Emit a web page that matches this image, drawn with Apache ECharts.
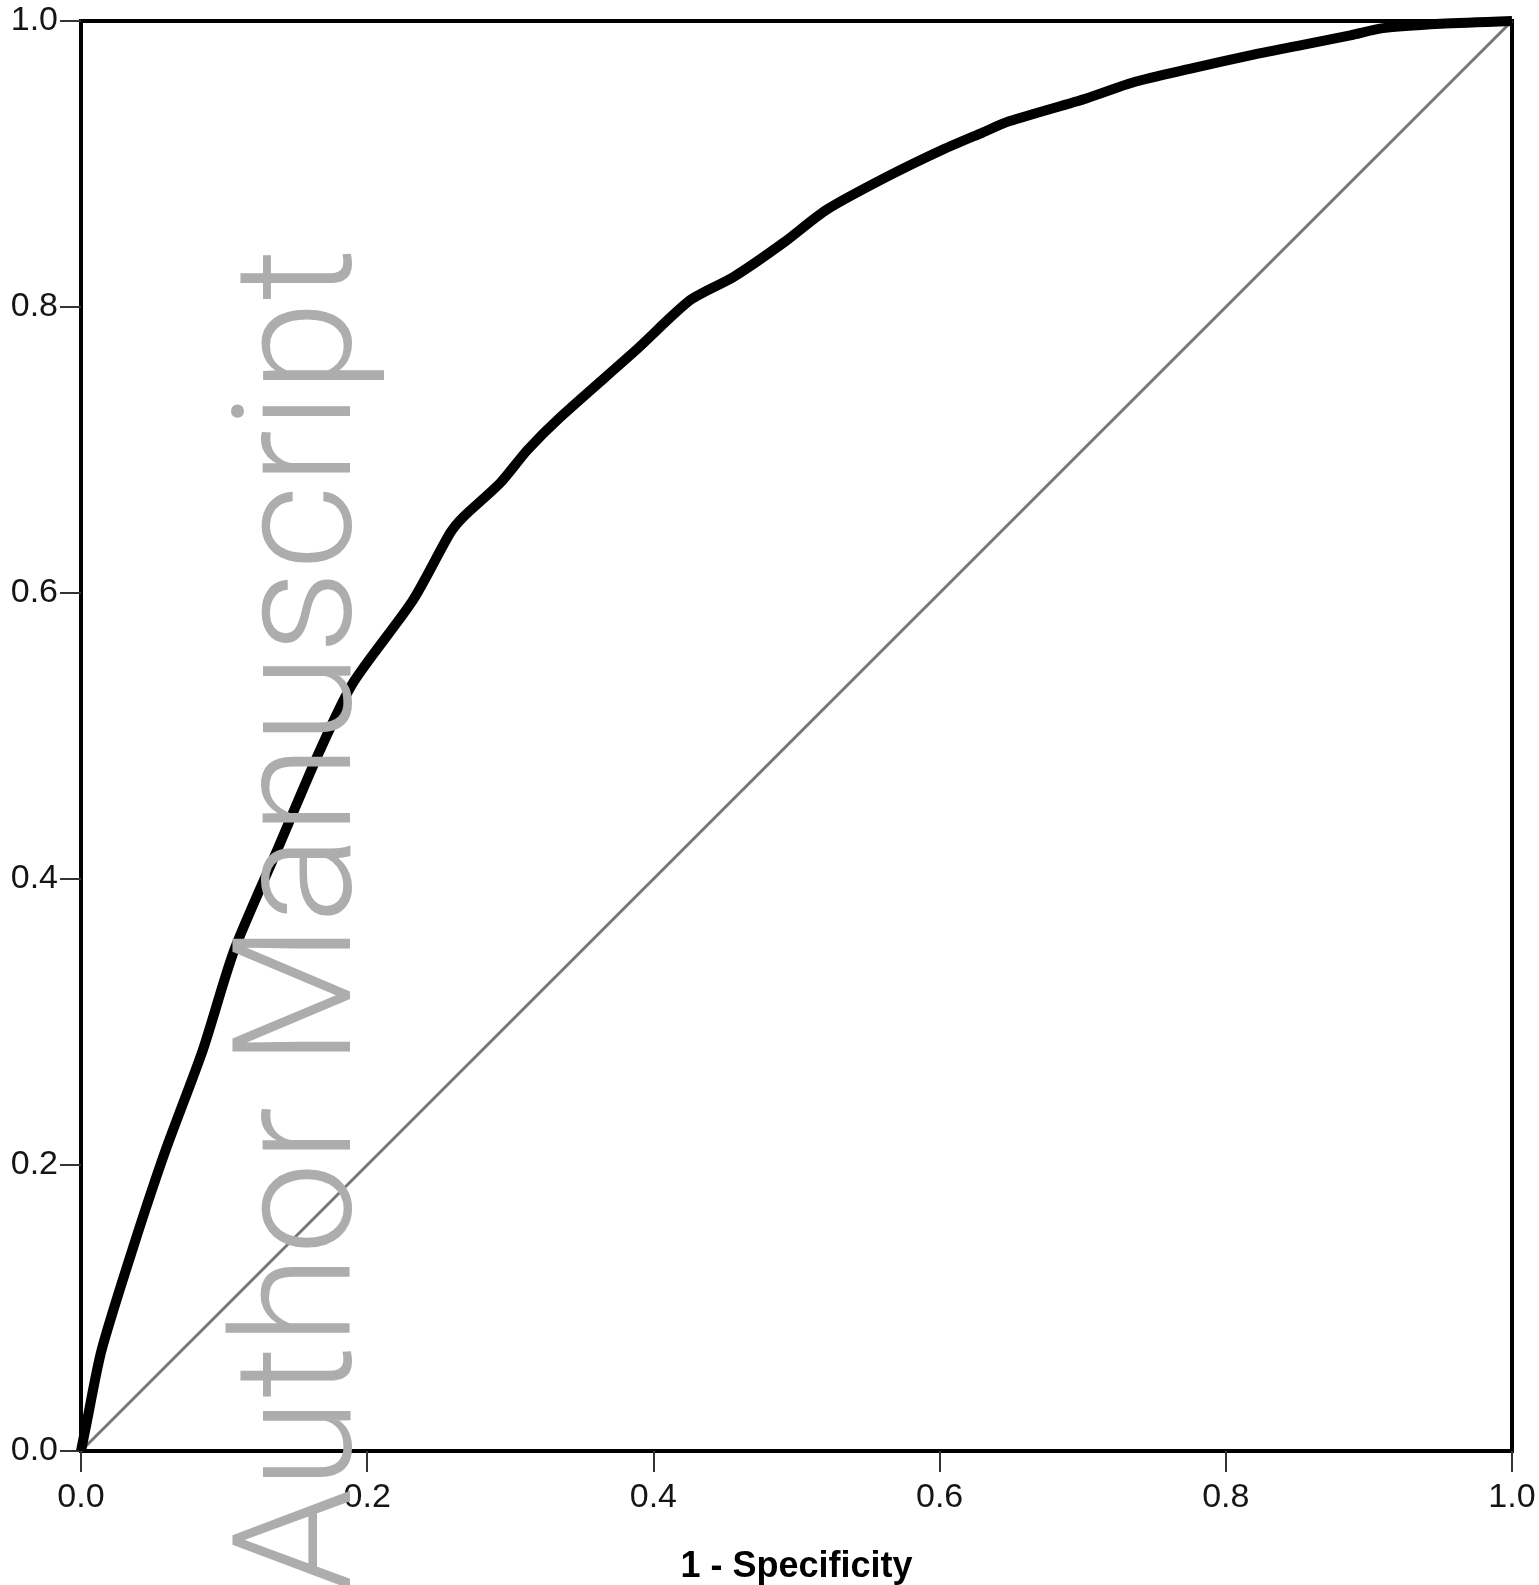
<!DOCTYPE html>
<html>
<head>
<meta charset="utf-8">
<script src="https://cdn.jsdelivr.net/npm/echarts@6/dist/echarts.min.js"></script>
<style>
html,body{margin:0;padding:0;background:#fff;}
#rocChart{width:1539px;height:1585px;}
</style>
</head>
<body>
<div id="rocChart"></div>
<script>
// ROC curve
const fpr = [0, 0.004, 0.0144, 0.036, 0.059, 0.085, 0.107, 0.137, 0.167, 0.190, 0.232, 0.258, 0.267, 0.293, 0.312, 0.335, 0.388, 0.426, 0.456, 0.491, 0.521, 0.563, 0.602, 0.630, 0.649, 0.703, 0.735, 0.777, 0.817, 0.852, 0.887, 0.910, 0.950, 1];
const tpr = [0, 0.020, 0.0706, 0.141, 0.210, 0.280, 0.350, 0.420, 0.490, 0.537, 0.595, 0.642, 0.653, 0.677, 0.700, 0.723, 0.770, 0.805, 0.821, 0.845, 0.868, 0.891, 0.910, 0.922, 0.930, 0.946, 0.957, 0.967, 0.976, 0.983, 0.990, 0.995, 0.998, 1];
const refX = [0, 1];
const refY = [0, 1];
const xTitle = "1 - Specificity";
const watermark = "Author Manuscript";

let chart = echarts.init(document.getElementById("rocChart"));

let axisCommon = {
    type: 'value',
    min: 0,
    max: 1,
    interval: 0.2,
    splitLine: { show: false },
    axisLine: { show: true, lineStyle: { color: '#000', width: 4 } },
    axisTick: { show: true, length: 21, lineStyle: { color: '#333', width: 2 } },
    axisLabel: {
        color: '#151515',
        fontFamily: 'Liberation Sans',
        fontSize: 34,
        formatter: (v) => v.toFixed(1)
    }
};

let option = {
    animation: false,
    grid: {
        left: 81,
        right: 27,
        top: 21,
        bottom: 134,
        outerBoundsMode: 'none',
        containLabel: false,
        show: true,
        borderColor: '#000',
        borderWidth: 4
    },
    xAxis: Object.assign({}, axisCommon, {
        name: xTitle,
        nameLocation: 'middle',
        nameGap: 98,
        nameTextStyle: {
            color: '#000',
            fontFamily: 'Liberation Sans',
            fontWeight: 'bold',
            fontSize: 36
        },
        axisLabel: Object.assign({}, axisCommon.axisLabel, { margin: 30 })
    }),
    yAxis: Object.assign({}, axisCommon, {
        axisLabel: Object.assign({}, axisCommon.axisLabel, { margin: 23 })
    }),
    series: [
        {
            type: 'line',
            data: refX.map((x, i) => [x, refY[i]]),
            showSymbol: false,
            lineStyle: { color: '#777', width: 3 },
            z: 2
        },
        {
            type: 'line',
            data: fpr.map((x, i) => [x, tpr[i]]),
            showSymbol: false,
            smooth: 0.25,
            lineStyle: { color: '#000', width: 10 },
            z: 3
        }
    ],
    graphic: [
        {
            type: 'text',
            x: 309,
            y: 248,
            rotation: Math.PI / 2,
            z: 10,
            style: {
                text: watermark,
                fill: '#adadad',
                font: '300 165px Roboto',
                align: 'right',
                verticalAlign: 'middle'
            }
        }
    ]
};

chart.setOption(option);
</script>
</body>
</html>
